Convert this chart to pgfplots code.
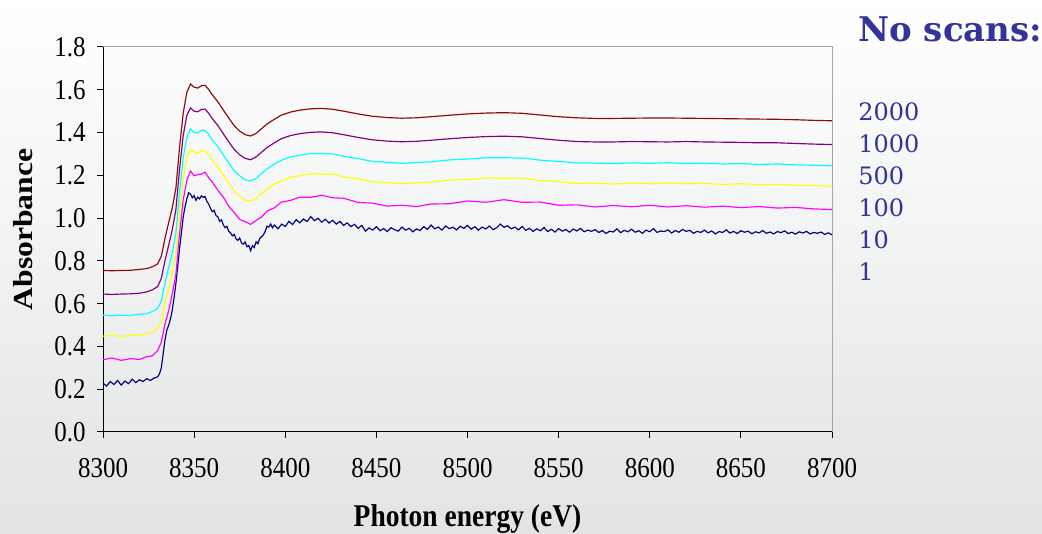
\documentclass[border=0pt]{standalone}
\usepackage{fontspec}
\setmainfont{Liberation Serif}
\newfontfamily\schola{DejaVu Serif}
\usepackage{pgfplots}
\usepackage{pgfplotstable}
\pgfplotsset{compat=1.18}

\definecolor{bgbot}{RGB}{226,228,228}
\definecolor{txtblue}{RGB}{51,51,153}
\definecolor{cdred}{RGB}{140,10,10}
\definecolor{cpurple}{RGB}{128,0,128}
\definecolor{ccyan}{RGB}{0,255,255}
\definecolor{cyellow}{RGB}{255,255,0}
\definecolor{cmagenta}{RGB}{255,0,255}
\definecolor{cnavy}{RGB}{0,0,128}

\newcommand{\sy}[1]{\scalebox{1}[1.15]{#1}}

% averaged spectra, offset by ~0.1 each
\pgfplotstableread{
x s2000 s1000 s500 s100 s10
8300 0.755 0.645 0.546 0.448 0.338
8305 0.754 0.643 0.543 0.452 0.346
8310 0.755 0.645 0.546 0.447 0.335
8315 0.756 0.646 0.545 0.451 0.343
8320 0.760 0.649 0.551 0.454 0.339
8324 0.764 0.655 0.553 0.461 0.352
8327 0.772 0.664 0.563 0.466 0.356
8330 0.786 0.680 0.577 0.484 0.381
8332 0.822 0.718 0.613 0.515 0.420
8334 0.905 0.800 0.695 0.602 0.505
8336 0.978 0.872 0.769 0.671 0.566
8338 1.048 0.945 0.837 0.745 0.646
8340 1.140 1.040 0.931 0.834 0.737
8342 1.330 1.228 1.121 1.027 0.926
8344 1.490 1.385 1.281 1.183 1.085
8346 1.588 1.480 1.377 1.285 1.176
8348 1.627 1.515 1.417 1.320 1.220
8350 1.612 1.500 1.400 1.310 1.198
8352 1.608 1.497 1.398 1.301 1.203
8354 1.619 1.508 1.411 1.316 1.206
8356 1.621 1.510 1.409 1.314 1.215
8358 1.601 1.490 1.392 1.298 1.188
8360 1.576 1.465 1.365 1.270 1.169
8363 1.544 1.433 1.335 1.241 1.130
8366 1.505 1.394 1.294 1.198 1.098
8369 1.468 1.357 1.259 1.166 1.055
8372 1.432 1.321 1.221 1.125 1.026
8375 1.407 1.296 1.198 1.104 0.994
8378 1.390 1.279 1.179 1.083 0.983
8381 1.384 1.273 1.175 1.081 0.971
8384 1.396 1.286 1.185 1.089 0.989
8387 1.418 1.308 1.209 1.115 1.005
8390 1.440 1.330 1.229 1.133 1.033
8394 1.462 1.352 1.253 1.159 1.048
8398 1.482 1.372 1.271 1.175 1.075
8403 1.496 1.386 1.287 1.193 1.083
8408 1.505 1.395 1.294 1.198 1.098
8414 1.511 1.401 1.302 1.208 1.097
8420 1.513 1.403 1.302 1.206 1.107
8426 1.509 1.399 1.300 1.206 1.095
8432 1.500 1.390 1.289 1.193 1.093
8440 1.487 1.377 1.278 1.184 1.073
8448 1.476 1.366 1.265 1.169 1.070
8456 1.470 1.360 1.261 1.167 1.056
8464 1.467 1.357 1.256 1.160 1.060
8472 1.469 1.359 1.260 1.166 1.054
8480 1.474 1.364 1.263 1.167 1.066
8490 1.481 1.371 1.272 1.178 1.067
8500 1.487 1.377 1.276 1.180 1.080
8510 1.491 1.381 1.282 1.188 1.074
8520 1.493 1.383 1.282 1.186 1.086
8530 1.490 1.380 1.281 1.187 1.074
8540 1.482 1.372 1.271 1.175 1.075
8550 1.474 1.364 1.265 1.171 1.060
8560 1.469 1.358 1.258 1.162 1.062
8570 1.466 1.356 1.257 1.163 1.052
8580 1.466 1.356 1.255 1.159 1.059
8590 1.467 1.358 1.258 1.164 1.053
8600 1.468 1.357 1.256 1.160 1.060
8610 1.468 1.356 1.259 1.165 1.052
8620 1.467 1.358 1.255 1.160 1.058
8630 1.466 1.356 1.257 1.163 1.051
8640 1.465 1.355 1.253 1.157 1.056
8650 1.464 1.354 1.255 1.161 1.049
8660 1.463 1.352 1.251 1.155 1.054
8670 1.462 1.352 1.253 1.158 1.047
8680 1.460 1.349 1.249 1.153 1.050
8690 1.457 1.346 1.247 1.152 1.043
8700 1.455 1.344 1.244 1.148 1.040
}\avg

% single scan
\pgfplotstableread{
x y
8300 0.228
8302 0.215
8304 0.236
8306 0.222
8308 0.241
8310 0.219
8312 0.238
8314 0.226
8316 0.247
8318 0.231
8320 0.244
8322 0.236
8324 0.249
8326 0.241
8328 0.252
8330 0.258
8331 0.272
8332 0.300
8333 0.365
8334 0.430
8335 0.475
8336 0.498
8337 0.528
8338 0.570
8339 0.628
8340 0.695
8341 0.772
8342 0.858
8343 0.930
8344 1.005
8345 1.052
8346 1.090
8347 1.118
8348 1.112
8349 1.095
8350 1.105
8351 1.083
8352 1.098
8353 1.090
8354 1.104
8355 1.097
8356 1.101
8357 1.078
8358 1.066
8359 1.045
8360 1.030
8361 1.036
8362 1.012
8363 1.006
8364 0.985
8365 0.992
8366 0.968
8367 0.955
8368 0.962
8369 0.938
8370 0.931
8371 0.917
8372 0.924
8373 0.903
8374 0.896
8375 0.907
8376 0.884
8377 0.878
8378 0.889
8379 0.866
8380 0.872
8381 0.848
8382 0.871
8383 0.862
8384 0.889
8385 0.880
8386 0.905
8387 0.913
8388 0.921
8389 0.938
8390 0.962
8391 0.958
8392 0.972
8393 0.955
8394 0.968
8396 0.950
8398 0.972
8400 0.961
8402 0.985
8404 0.970
8406 0.993
8408 0.978
8410 0.996
8412 0.984
8414 1.007
8416 0.988
8418 0.999
8420 0.981
8422 0.995
8424 0.977
8426 0.990
8428 0.972
8430 0.985
8432 0.966
8434 0.978
8436 0.960
8438 0.971
8440 0.952
8442 0.966
8444 0.939
8446 0.954
8448 0.944
8450 0.960
8452 0.941
8454 0.951
8456 0.937
8458 0.955
8460 0.946
8462 0.939
8464 0.958
8466 0.944
8468 0.952
8470 0.936
8472 0.949
8474 0.942
8476 0.960
8478 0.947
8480 0.968
8482 0.950
8484 0.958
8486 0.944
8488 0.963
8490 0.951
8492 0.957
8494 0.945
8496 0.962
8498 0.952
8500 0.966
8502 0.948
8504 0.960
8506 0.944
8508 0.958
8510 0.949
8512 0.963
8514 0.946
8516 0.955
8518 0.972
8520 0.957
8522 0.964
8524 0.950
8526 0.958
8528 0.945
8530 0.961
8532 0.943
8534 0.952
8536 0.938
8538 0.950
8540 0.941
8542 0.956
8544 0.937
8546 0.948
8548 0.935
8550 0.951
8552 0.939
8554 0.947
8556 0.934
8558 0.949
8560 0.940
8562 0.952
8564 0.936
8566 0.944
8568 0.938
8570 0.946
8572 0.933
8574 0.942
8576 0.928
8578 0.939
8580 0.935
8582 0.950
8584 0.932
8586 0.943
8588 0.936
8590 0.948
8592 0.934
8594 0.941
8596 0.929
8598 0.944
8600 0.936
8602 0.951
8604 0.933
8606 0.940
8608 0.937
8610 0.945
8612 0.930
8614 0.942
8616 0.934
8618 0.947
8620 0.938
8622 0.943
8624 0.929
8626 0.938
8628 0.933
8630 0.944
8632 0.931
8634 0.940
8636 0.926
8638 0.937
8640 0.933
8642 0.945
8644 0.930
8646 0.938
8648 0.928
8650 0.941
8652 0.934
8654 0.939
8656 0.927
8658 0.936
8660 0.931
8662 0.942
8664 0.929
8666 0.935
8668 0.926
8670 0.937
8672 0.932
8674 0.940
8676 0.928
8678 0.934
8680 0.925
8682 0.936
8684 0.930
8686 0.938
8688 0.926
8690 0.933
8692 0.929
8694 0.935
8696 0.924
8698 0.931
8700 0.922
}\single

\begin{document}
\begin{tikzpicture}
% slide background, 1042x534 px at 0.6pt/px
\useasboundingbox (0,0) rectangle (625.2pt,320.4pt);
\shade[top color=white, bottom color=bgbot] (0,0) rectangle (625.2pt,320.4pt);

\begin{axis}[
    at={(61.8pt,61.2pt)}, anchor=south west,
    scale only axis,
    width=437.4pt, height=231pt,
    xmin=8300, xmax=8700, ymin=0, ymax=1.8,
    xtick={8300,8350,8400,8450,8500,8550,8600,8650,8700},
    xticklabels={\sy{8300},\sy{8350},\sy{8400},\sy{8450},\sy{8500},\sy{8550},\sy{8600},\sy{8650},\sy{8700}},
    ytick={0,0.2,0.4,0.6,0.8,1.0,1.2,1.4,1.6,1.8},
    yticklabels={\sy{0.0},\sy{0.2},\sy{0.4},\sy{0.6},\sy{0.8},\sy{1.0},\sy{1.2},\sy{1.4},\sy{1.6},\sy{1.8}},
    axis x line*=bottom, axis y line*=left,
    axis line style={-, black, line width=0.6pt},
    tick align=outside, major tick length=3.5pt,
    tick style={black, line width=0.6pt},
    ticklabel style={font=\fontsize{15pt}{15pt}\selectfont},
    xticklabel style={yshift=-9pt},
    yticklabel style={xshift=-3.4pt},
    xlabel={\sy{\bfseries Photon energy (eV)}},
    ylabel={\scalebox{1.15}[1]{\bfseries Absorbance}},
    label style={font=\fontsize{16.5pt}{16.5pt}\selectfont},
    xlabel style={at={(axis description cs:0.5,-0.226)}, anchor=center},
    ylabel style={at={(axis description cs:-0.1097,0.526)}, anchor=center},
    every axis plot/.append style={line width=0.7pt},
    clip=false,
]
\draw[gray!70, line width=0.6pt] (rel axis cs:0,1) -- (rel axis cs:1,1) -- (rel axis cs:1,0);
\addplot[cnavy] table[x=x, y=y] {\single};
\addplot[cmagenta] table[x=x, y=s10] {\avg};
\addplot[cyellow] table[x=x, y=s100] {\avg};
\addplot[ccyan] table[x=x, y=s500] {\avg};
\addplot[cpurple] table[x=x, y=s1000] {\avg};
\addplot[cdred] table[x=x, y=s2000] {\avg};
\end{axis}

\node[anchor=base west, inner sep=0, text=txtblue, font=\schola\bfseries\fontsize{20.4pt}{21pt}\selectfont] at (514.8pt,295.2pt) {No scans:};
\begin{scope}[every node/.style={anchor=base west, inner sep=0, text=txtblue, font=\schola\fontsize{14.4pt}{15pt}\selectfont}]
\node at (514.8pt,247.8pt) {2000};
\node at (514.8pt,228.6pt) {1000};
\node at (514.8pt,209.4pt) {500};
\node at (514.8pt,190.2pt) {100};
\node at (514.8pt,171.0pt) {10};
\node at (514.8pt,151.8pt) {1};
\end{scope}
\end{tikzpicture}
\end{document}
